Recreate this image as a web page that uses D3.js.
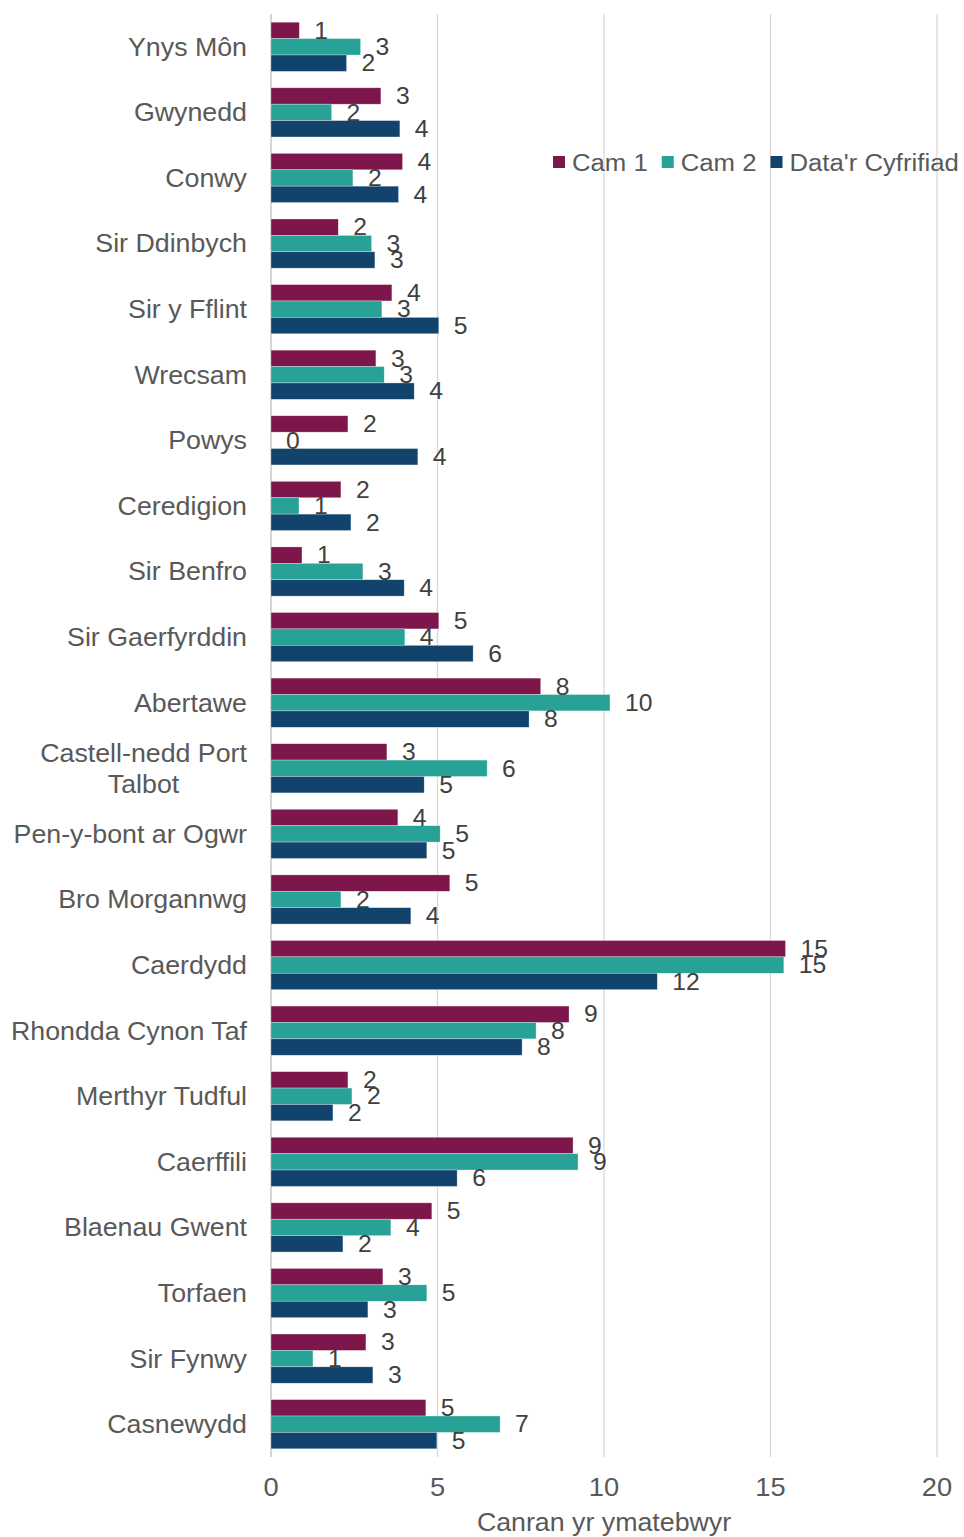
<html>
<head>
    <meta charset="utf-8">
    <script src="https://d3js.org/d3.v7.min.js"></script>
    <style>
        body { margin: 0; background: #fff; font-family: "Liberation Sans", Arial, sans-serif; }
        .cat { font-size: 25.5px; fill: #595959; }
        .val { font-size: 23.5px; fill: #404040; }
        .tick-label { font-size: 26px; fill: #595959; }
        .axis-title { font-size: 25.5px; fill: #595959; }
        .legend text { font-size: 24.5px; fill: #595959; }
    </style>
</head>
<body>
    <svg id="chart" width="964" height="1537"></svg>
    <script>
        const categories = ["Ynys Môn", "Gwynedd", "Conwy", "Sir Ddinbych", "Sir y Fflint", "Wrecsam", "Powys",
            "Ceredigion", "Sir Benfro", "Sir Gaerfyrddin", "Abertawe", "Castell-nedd Port Talbot",
            "Pen-y-bont ar Ogwr", "Bro Morgannwg", "Caerdydd", "Rhondda Cynon Taf", "Merthyr Tudful",
            "Caerffili", "Blaenau Gwent", "Torfaen", "Sir Fynwy", "Casnewydd"];
        const seriesNames = ["Cam 1", "Cam 2", "Data'r Cyfrifiad"];
        const cam1 = [0.85, 3.3, 3.95, 2.02, 3.63, 3.15, 2.31, 2.1, 0.93, 5.04, 8.1, 3.48, 3.81, 5.37, 15.45, 8.95, 2.31, 9.07, 4.83, 3.36, 2.85, 4.65];
        const cam2 = [2.69, 1.82, 2.46, 3.02, 3.33, 3.4, 0, 0.84, 2.76, 4.02, 10.18, 6.49, 5.08, 2.1, 15.4, 7.96, 2.43, 9.22, 3.6, 4.68, 1.26, 6.88];
        const census = [2.27, 3.87, 3.83, 3.12, 5.04, 4.3, 4.41, 2.4, 4.0, 6.07, 7.75, 4.6, 4.68, 4.2, 11.6, 7.54, 1.86, 5.59, 2.16, 2.91, 3.06, 4.98];
        const xTicks = [0, 5, 10, 15, 20];
        const colors = ["#7d174b", "#28a197", "#12436d"];
        const axisTitle = "Canran yr ymatebwyr";

        const svg = d3.select("#chart");
        const plotLeft = 271, plotRight = 937, plotTop = 14, plotBottom = 1457;
        const sx = 1.05; // text in the reference is a touch wider than Arial

        const place = (sel, px, py) => sel.attr("transform", `translate(${px},${py}) scale(${sx},1)`);

        const x = d3.scaleLinear().domain([0, 20]).range([plotLeft, plotRight]);
        const y = d3.scaleBand().domain(categories).range([plotTop, plotBottom])
            .paddingInner(0.25).paddingOuter(0.125);
        const ySub = d3.scaleBand().domain(seriesNames).range([0, y.bandwidth()]);
        const color = d3.scaleOrdinal().domain(seriesNames).range(colors);

        // gridlines
        svg.append("g").selectAll("line")
            .data(xTicks)
            .join("line")
            .attr("x1", d => x(d)).attr("x2", d => x(d))
            .attr("y1", plotTop).attr("y2", plotBottom)
            .attr("stroke", d => d === 0 ? "#bfbfbf" : "#d9d9d9")
            .attr("stroke-width", 1.3);

        const rows = categories.map((c, i) => ({ cat: c, values: [cam1[i], cam2[i], census[i]] }));

        const groups = svg.append("g").selectAll("g")
            .data(rows)
            .join("g")
            .attr("transform", d => `translate(0,${y(d.cat)})`);

        groups.selectAll("rect")
            .data(d => d.values.map((v, j) => ({ key: seriesNames[j], v })))
            .join("rect")
            .attr("x", x(0))
            .attr("y", d => ySub(d.key))
            .attr("width", d => x(d.v) - x(0))
            .attr("height", ySub.bandwidth())
            .attr("fill", d => color(d.key))
            .attr("stroke", "#ffffff")
            .attr("stroke-opacity", 0.5)
            .attr("stroke-width", 0.6);

        groups.selectAll("text.val")
            .data(d => d.values.map((v, j) => ({ key: seriesNames[j], v })))
            .join("text")
            .attr("class", "val")
            .attr("dy", "0.35em")
            .each(function (d) {
                place(d3.select(this), x(d.v) + 15, ySub(d.key) + ySub.bandwidth() / 2);
            })
            .text(d => Math.round(d.v));

        // category labels
        const labelRight = 247;
        categories.forEach(c => {
            const cy = y(c) + y.bandwidth() / 2;
            if (c === "Castell-nedd Port Talbot") {
                const t = svg.append("text").attr("class", "cat").attr("text-anchor", "middle");
                const l1 = t.append("tspan").text("Castell-nedd Port");
                const w = l1.node().getComputedTextLength() * sx;
                place(t, labelRight - w / 2, cy);
                l1.attr("x", 0).attr("y", -15.5).attr("dy", "0.35em");
                t.append("tspan").text("Talbot").attr("x", 0).attr("y", 15.5).attr("dy", "0.35em");
            } else {
                const t = svg.append("text").attr("class", "cat")
                    .attr("dy", "0.35em")
                    .attr("text-anchor", "end").text(c);
                place(t, labelRight, cy);
            }
        });

        // x axis labels
        svg.append("g").selectAll("text")
            .data(xTicks)
            .join("text")
            .attr("class", "tick-label")
            .attr("dy", "0.35em")
            .attr("text-anchor", "middle")
            .each(function (d) { place(d3.select(this), x(d), 1487); })
            .text(d => d);

        place(svg.append("text")
            .attr("class", "axis-title")
            .attr("dy", "0.35em")
            .attr("text-anchor", "middle")
            .text(axisTitle), (plotLeft + plotRight) / 2, 1522);

        // legend
        const legend = svg.append("g").attr("class", "legend");
        let lx = 553;
        seriesNames.forEach(s => {
            legend.append("rect").attr("x", lx).attr("y", 156).attr("width", 12).attr("height", 12)
                .attr("fill", color(s));
            const t = legend.append("text").attr("dy", "0.35em").text(s);
            place(t, lx + 19, 162);
            lx += 19 + t.node().getComputedTextLength() * sx + 14;
        });
    </script>
</body>
</html>
